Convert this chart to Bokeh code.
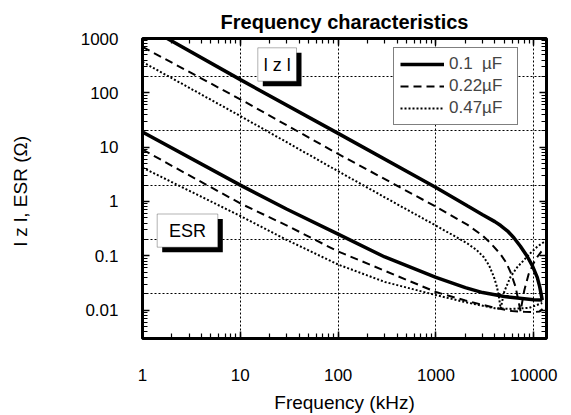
from bokeh.plotting import figure
from bokeh.models import (Range1d, LogAxis, LogTicker, FixedTicker, NumeralTickFormatter,
                          Legend, LegendItem, BoxAnnotation, Label)
from bokeh.embed import file_html
from bokeh.resources import INLINE

FONT = "Liberation Sans"

# ---- axes / ticks ----
x_ticks = [1, 10, 100, 1000, 10000]
y_ticks = [0.01, 0.1, 1, 10, 100, 1000]
grid_x = [10, 100, 1000, 10000]
grid_y = [0.02, 0.2, 2, 20, 200]

series_labels = ["0.1  \u00b5F", "0.22\u00b5F", "0.47\u00b5F"]

# ---- 0.1 uF ----
f_z_01 = [1.79, 10, 100, 1000, 2090, 3000, 4000, 4590, 5400, 6260, 7300, 8590,
          9700, 10860, 11500, 12220]
z_01 = [1000, 175, 17.9, 1.80, 0.83, 0.57, 0.425, 0.36, 0.285, 0.215, 0.150, 0.097,
        0.065, 0.040, 0.027, 0.0153]
f_esr_01 = [1, 10, 30, 100, 300, 1000, 2000, 3000, 5000, 10000, 12220]
esr_01 = [19, 2.0, 0.72, 0.25, 0.095, 0.040, 0.026, 0.021, 0.0178, 0.0155, 0.0153]

# ---- 0.22 uF ----
f_z_022 = [1, 10, 100, 1000, 2090, 3000, 3615, 4590, 5200, 5790, 6510, 7040, 7330,
           8000, 8870, 10000, 11000, 12000]
z_022 = [700, 76, 7.5, 0.80, 0.375, 0.235, 0.172, 0.106, 0.076, 0.05, 0.027, 0.0135, 0.0095,
         0.023, 0.046, 0.074, 0.098, 0.12]
f_esr_022 = [1, 10, 30, 100, 300, 1000, 2000, 4000, 6000, 8000, 10000, 11500, 12300]
esr_022 = [9, 0.92, 0.36, 0.12, 0.053, 0.0215, 0.015, 0.011, 0.0096, 0.0093, 0.0092, 0.0094, 0.0105]

# ---- 0.47 uF ----
f_z_047 = [1, 10, 100, 435, 1000, 2090, 2600, 3090, 3500, 3910, 4200, 4400, 4590,
           5000, 5790, 6800, 7920, 9300, 10860, 12300, 13740]
z_047 = [370, 37.4, 3.6, 0.82, 0.36, 0.169, 0.128, 0.094, 0.066, 0.041, 0.027, 0.0176, 0.0107,
         0.022, 0.041, 0.062, 0.083, 0.113, 0.147, 0.172, 0.195]
f_esr_047 = [1, 10, 30, 100, 300, 1000, 2000, 4000, 6000, 9000, 12220]
esr_047 = [4.2, 0.54, 0.195, 0.069, 0.033, 0.0189, 0.014, 0.0108, 0.0105, 0.011, 0.0135]

p = figure(width=571, height=415, x_axis_type="log", y_axis_type="log",
           x_range=Range1d(1, 13500), y_range=Range1d(0.003, 1000),
           output_backend="svg", toolbar_location=None,
           min_border_left=142, min_border_right=25, min_border_top=38, min_border_bottom=77,
           background_fill_color="white", border_fill_color="white")

p.title.text = "Frequency characteristics"
p.title.align = "center"
p.title.text_font = FONT
p.title.text_font_size = "20px"
p.title.text_font_style = "bold"
p.title.text_color = "black"
p.title.standoff = 11

p.outline_line_color = "black"
p.outline_line_width = 3
p.outline_line_alpha = 1

# grids
p.xgrid.ticker = FixedTicker(ticks=grid_x)
p.ygrid.ticker = FixedTicker(ticks=grid_y)
for g in (p.xgrid[0], p.ygrid[0]):
    g.grid_line_color = "black"
    g.grid_line_dash = "2 2"
    g.grid_line_width = 1


def style_axis(ax, labels=True):
    ax.axis_line_color = None
    ax.major_tick_in = 7
    ax.major_tick_out = 0
    ax.minor_tick_in = 5
    ax.minor_tick_out = 0
    ax.major_tick_line_color = "black"
    ax.minor_tick_line_color = "black"
    ax.major_tick_line_width = 1.5
    ax.minor_tick_line_width = 1.2
    if labels:
        ax.major_label_text_font = FONT
        ax.major_label_text_font_size = "17px"
        ax.major_label_text_color = "black"
        ax.formatter = NumeralTickFormatter(format="0.[00]")
        ax.axis_label_text_font = FONT
        ax.axis_label_text_font_size = "19px"
        ax.axis_label_text_font_style = "normal"
        ax.axis_label_text_color = "black"
    else:
        ax.major_label_text_font_size = "1px"
        ax.major_label_text_alpha = 0
        ax.major_label_standoff = 0


xa = p.xaxis[0]
xa.ticker = LogTicker(num_minor_ticks=10, desired_num_ticks=len(x_ticks))
style_axis(xa)
xa.major_label_standoff = 30
xa.axis_label = "Frequency (kHz)"
xa.axis_label_standoff = 8

ya = p.yaxis[0]
ya.ticker = LogTicker(num_minor_ticks=10, desired_num_ticks=len(y_ticks))
style_axis(ya)
ya.major_label_standoff = 24
ya.axis_label = "l z l,  ESR (\u03a9)"
ya.axis_label_standoff = 47

top = LogAxis(ticker=LogTicker(num_minor_ticks=10))
style_axis(top, labels=False)
p.add_layout(top, "above")
right = LogAxis(ticker=LogTicker(num_minor_ticks=10))
style_axis(right, labels=False)
p.add_layout(right, "right")

# curves
W_S, W_D = 3.5, 2
r1 = p.line(f_z_01, z_01, line_color="black", line_width=W_S)
p.line(f_esr_01, esr_01, line_color="black", line_width=W_S)
r2 = p.line(f_z_022, z_022, line_color="black", line_width=W_D, line_dash="8 5")
p.line(f_esr_022, esr_022, line_color="black", line_width=W_D, line_dash="8 5")
r3 = p.line(f_z_047, z_047, line_color="black", line_width=W_D, line_dash="2 2")
p.line(f_esr_047, esr_047, line_color="black", line_width=W_D, line_dash="2 2")

legend = Legend(items=[LegendItem(label=series_labels[0], renderers=[r1]),
                       LegendItem(label=series_labels[1], renderers=[r2]),
                       LegendItem(label=series_labels[2], renderers=[r3])],
                location=(251, 213), orientation="vertical",
                label_text_font=FONT, label_text_font_size="17px",
                glyph_width=44, glyph_height=20, label_height=20, label_width=62,
                label_standoff=5, padding=6, spacing=2, margin=0,
                border_line_color="black", border_line_width=1,
                background_fill_color="white", background_fill_alpha=1)
p.add_layout(legend, "center")

# annotation boxes with shadows
def boxed(left, bottom, w, h, text):
    sh = BoxAnnotation(left=left + 5, right=left + w + 5, bottom=bottom - 5, top=bottom + h - 5,
                       left_units="screen", right_units="screen",
                       bottom_units="screen", top_units="screen",
                       fill_color="black", fill_alpha=1, line_color=None)
    bx = BoxAnnotation(left=left, right=left + w, bottom=bottom, top=bottom + h,
                       left_units="screen", right_units="screen",
                       bottom_units="screen", top_units="screen",
                       fill_color="white", fill_alpha=1, line_color="black", line_width=1)
    lb = Label(x=left + w / 2, y=bottom + h / 2, x_units="screen", y_units="screen",
               text=text, text_align="center", text_baseline="middle",
               text_font=FONT, text_font_size="18px", text_color="black")
    p.add_layout(sh)
    p.add_layout(bx)
    p.add_layout(lb)

boxed(115.3, 257.3, 38.7, 33.4, "l z l")
boxed(14.7, 91.3, 60.6, 33.2, "ESR")

open("out.html", "w").write(file_html(p, INLINE))
